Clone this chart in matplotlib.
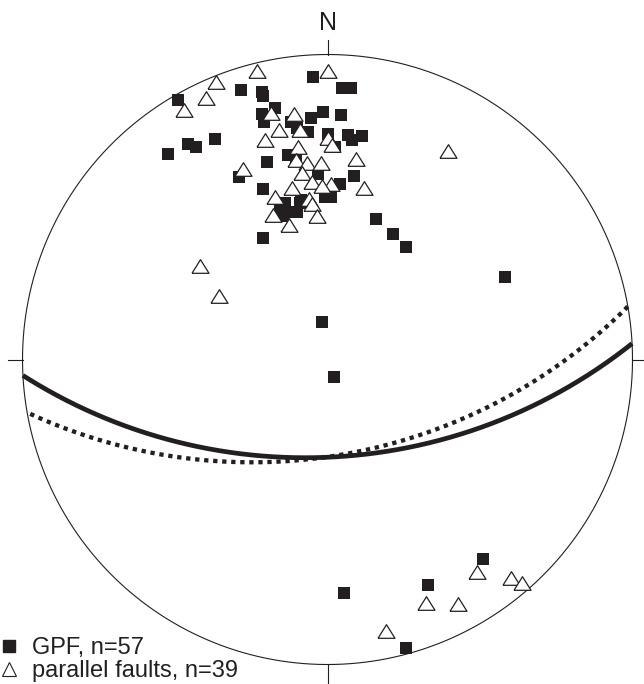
import numpy as np
import matplotlib.pyplot as plt
from matplotlib.lines import Line2D

plt.rcParams['font.family'] = ['Liberation Sans', 'DejaVu Sans']

# poles to GPF planes, net coordinates (x = east, y = north, primitive circle r = 1)
gpf_x = [-0.490, -0.284, -0.216, -0.211, -0.172, -0.214, -0.207, -0.369, -0.458, -0.432,
         -0.523, -0.198, -0.047, 0.047, 0.077, -0.014, 0.043, -0.054, -0.121, -0.101,
         -0.063, 0.003, 0.025, 0.068, 0.112, -0.130, -0.290, -0.030, 0.087, 0.041,
         -0.212, -0.008, 0.010, -0.139, -0.090, -0.156, -0.117, -0.101, 0.159, 0.216,
         0.257, -0.210, 0.582, -0.017, 0.022, 0.511, 0.330, 0.054, 0.256,
         -0.103, -0.146, -0.087, 0.080]
gpf_y = [0.851, 0.884, 0.877, 0.864, 0.825, 0.804, 0.780, 0.723, 0.707, 0.696,
         0.674, 0.648, 0.926, 0.889, 0.889, 0.812, 0.802, 0.791, 0.780, 0.759,
         0.747, 0.739, 0.698, 0.736, 0.733, 0.670, 0.597, 0.607, 0.603, 0.575,
         0.558, 0.534, 0.534, 0.512, 0.512, 0.490, 0.485, 0.485, 0.460, 0.410,
         0.368, 0.397, 0.271, 0.124, -0.056, -0.654, -0.739, -0.767, -0.947,
         0.661, 0.470, 0.523, 0.720]

# poles to parallel faults
par_x = [-0.232, -0.366, -0.398, -0.470, -0.185, -0.159, -0.205, 0.003, -0.110, -0.090,
         0.001, 0.014, -0.096, -0.103, -0.066, -0.021, 0.094, -0.277, -0.085, -0.050,
         0.010, -0.019, 0.121, -0.117, -0.172, -0.061, -0.052, -0.180, -0.033, -0.126,
         0.396, -0.418, -0.356, 0.489, 0.602, 0.639, 0.323, 0.427, 0.191]
par_y = [0.946, 0.911, 0.856, 0.818, 0.808, 0.752, 0.720, 0.946, 0.804, 0.752,
         0.725, 0.703, 0.698, 0.654, 0.644, 0.644, 0.657, 0.625, 0.611, 0.582,
         0.575, 0.569, 0.561, 0.561, 0.534, 0.525, 0.510, 0.474, 0.470, 0.441,
         0.685, 0.307, 0.208, -0.698, -0.717, -0.734, -0.799, -0.803, -0.889]

# mean planes as (strike, dip)
plane_solid = (87, 54.5)
plane_dotted = (80, 55)

legend_labels = ['GPF, n=57', 'parallel faults, n=39']


# great circle of a plane on a lower hemisphere equal-angle net
def great_circle(strike, dip):
    th = np.radians(np.linspace(0, 180, 361))
    s = np.radians(strike)
    d = np.radians(dip)
    east = np.cos(th) * np.sin(s) + np.sin(th) * np.cos(d) * np.sin(s + np.pi / 2)
    north = np.cos(th) * np.cos(s) + np.sin(th) * np.cos(d) * np.cos(s + np.pi / 2)
    plunge = np.arcsin(np.sin(th) * np.sin(d))
    trend = np.arctan2(east, north)
    r = np.tan(np.pi / 4 - plunge / 2)
    return r * np.sin(trend), r * np.cos(trend)


fig = plt.figure(figsize=(6.44, 6.84), dpi=100)
ax = fig.add_axes([0, 0, 1, 1])
ax.set_xlim(-1.0738, 1.0377)
ax.set_ylim(-1.0639, 1.1787)
ax.axis('off')

# primitive circle and N/E/S/W ticks
t = np.linspace(0, 2 * np.pi, 500)
ax.plot(np.cos(t), np.sin(t), color='#231f20', lw=0.8)
ax.plot([0, 0], [1, 1.047], color='#231f20', lw=0.8)
ax.plot([0, 0], [-1, -1.06], color='#231f20', lw=0.8)
ax.plot([-1, -1.048], [0, 0], color='#231f20', lw=0.8)
ax.plot([1, 1.05], [0, 0], color='#231f20', lw=0.8)
ax.text(0.002, 1.103, 'N', ha='center', va='center', fontsize=18, color='#231f20')

gx, gy = great_circle(*plane_solid)
ax.plot(gx, gy, color='#231f20', lw=3.4, solid_capstyle='butt')
gx, gy = great_circle(*plane_dotted)
ax.plot(gx, gy, color='#231f20', lw=3.1, linestyle=(0, (1, 1.1)), dash_capstyle='butt')

ax.scatter(gpf_x, gpf_y, marker='s', s=70, color='#231f20', linewidths=0, zorder=3)
tri = [(-1, -0.8), (1, -0.8), (0, 0.8), (-1, -0.8)]
ax.scatter(par_x, par_y, marker=tri, s=150, facecolor='white', edgecolor='#231f20',
           linewidths=0.9, zorder=4)

handles = [Line2D([], [], marker='s', ms=8, color='#231f20', ls='none'),
           Line2D([], [], marker='^', ms=10.5, mfc='white', mec='#231f20', mew=0.8, ls='none')]
ax.legend(handles, legend_labels, loc='lower left', bbox_to_anchor=(0, 0.003), frameon=False,
          fontsize=17, borderaxespad=0, borderpad=0.0, handlelength=0.8,
          handletextpad=0.55, labelspacing=0.02, labelcolor='#231f20')

plt.savefig('out.png', dpi=100)
